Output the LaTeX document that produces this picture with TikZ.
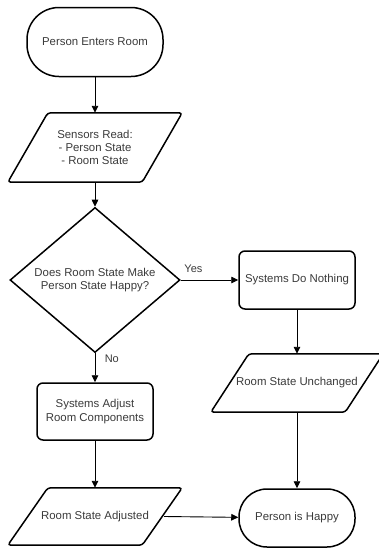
\documentclass[tikz,border=0pt]{standalone}
\usepackage{fontspec}
\setmainfont{Liberation Sans}
\usetikzlibrary{shapes.geometric,arrows.meta}
\definecolor{txt}{HTML}{3A3A3A}
\begin{document}
\begin{tikzpicture}[x=1pt,y=1pt,
  every node/.style={font=\fontsize{11.4}{13.4}\selectfont, text=txt, align=center},
  shapeline/.style={draw=black, line width=1.5pt},
  term/.style={shapeline, rectangle, rounded corners=32pt, inner sep=0pt},
  procbox/.style={shapeline, rectangle, rounded corners=6pt, minimum width=116pt, minimum height=57pt, inner sep=0pt},
  iobody/.style={rectangle, draw=none, minimum width=134pt, inner sep=0pt},
  ioline/.style={shapeline, rounded corners=3pt},
  decide/.style={shapeline, diamond, minimum width=170pt, minimum height=116pt, inner sep=0pt},
  conn/.style={draw=black, line width=0.9pt, -{Triangle[length=7pt,width=6.5pt]}},
  lbl/.style={font=\fontsize{11}{13}\selectfont}
]
\useasboundingbox (0,0) rectangle (378,-549);

\node[term, minimum width=136pt, minimum height=69pt] (start) at (95,-42) {Person Enters Room};
\node[iobody, minimum height=69pt] (read) at (95,-147.5) {Sensors Read:\\- Person State\\- Room State};
\node[decide] (dec) at (95,-280) {Does Room State Make\\Person State Happy?};
\node[procbox, minimum height=58pt] (nothing) at (297,-280) {Systems Do Nothing};
\node[procbox] (adjust) at (95,-411.5) {Systems Adjust\\Room Components};
\node[iobody, minimum height=58pt] (unch) at (297,-383) {Room State Unchanged};
\node[iobody, minimum height=57pt] (adjd) at (95,-516.5) {Room State Adjusted};
\node[term, minimum width=116pt, minimum height=58pt, rounded corners=28pt] (happy) at (297,-518) {Person is Happy};

% parallelogram outlines
\draw[ioline] ([xshift=-20pt]read.south west) -- ([xshift=-20pt]read.south east)
  -- ([xshift=20pt]read.north east) -- ([xshift=20pt]read.north west) -- cycle;
\draw[ioline] ([xshift=-19pt]unch.south west) -- ([xshift=-19pt]unch.south east)
  -- ([xshift=19pt]unch.north east) -- ([xshift=19pt]unch.north west) -- cycle;
\draw[ioline] ([xshift=-20pt]adjd.south west) -- ([xshift=-20pt]adjd.south east)
  -- ([xshift=20pt]adjd.north east) -- ([xshift=20pt]adjd.north west) -- cycle;

% connectors
\draw[conn] (start) -- (read);
\draw[conn] (read) -- (dec);
\draw[conn] (dec) -- node[lbl, above, pos=0.22, yshift=4pt] (yes) {Yes} (nothing);
\draw[conn] (dec) -- node[lbl, right, pos=0.18, xshift=6pt] (no) {No} (adjust);
\draw[conn] (nothing) -- (unch);
\draw[conn] (adjust) -- (adjd);
\draw[conn] (unch) -- (happy);
\draw[conn] ([xshift=2pt]adjd.east) -- (happy);
\end{tikzpicture}
\end{document}
